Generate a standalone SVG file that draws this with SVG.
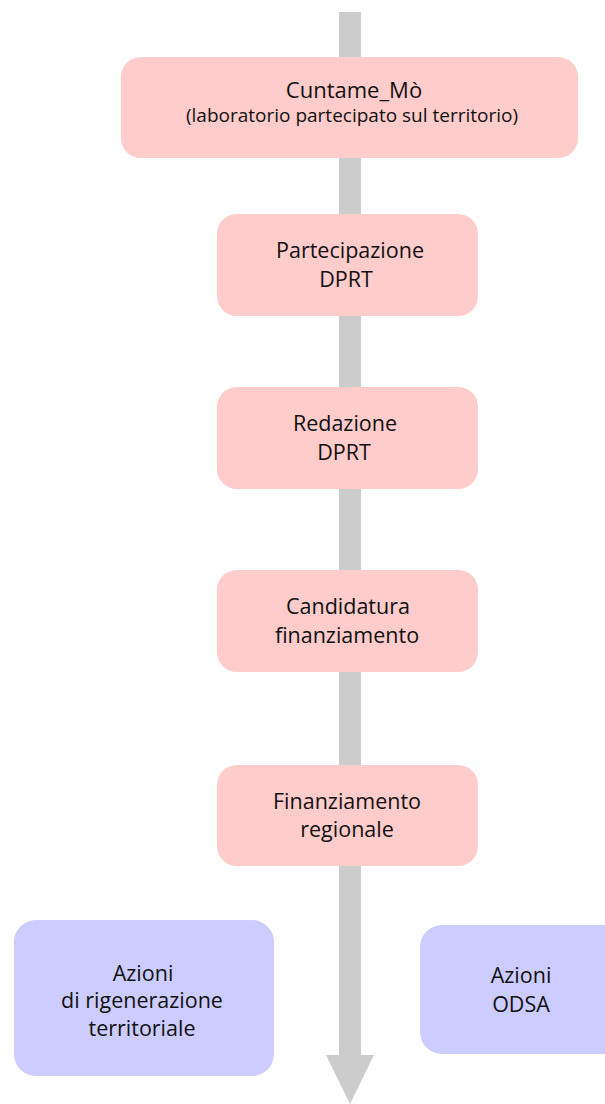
<svg xmlns="http://www.w3.org/2000/svg" width="605" height="1104" viewBox="0 0 605 1104">
  <defs>
    <style>
      .step { fill: #ffcccc; }
      .action { fill: #ccccff; }
      .flow { fill: #cccccc; }
      text { font-family: "Open Sans", "Liberation Sans", sans-serif; font-size: 21.5px; fill: #111111; text-anchor: middle; }
      .title { font-size: 22px; }
      .small { font-size: 19px; }
    </style>
  </defs>
  <rect width="605" height="1104" fill="#ffffff"/>

  <!-- main flow arrow running behind the steps -->
  <g id="connectors">
    <path class="flow" d="M339,12 H361 V1055 H374 L350,1104 L326,1055 H339 Z"/>
  </g>

  <g id="cuntame">
    <rect class="step" x="121" y="57" width="457" height="101" rx="20"/>
    <text class="title" x="354" y="98">Cuntame_Mò</text>
    <text class="small" x="352" y="122">(laboratorio partecipato sul territorio)</text>
  </g>

  <g id="partecipazione">
    <rect class="step" x="217" y="214" width="261" height="102" rx="20"/>
    <text x="350" y="258">Partecipazione</text>
    <text x="346" y="287">DPRT</text>
  </g>

  <g id="redazione">
    <rect class="step" x="217" y="387" width="261" height="102" rx="20"/>
    <text x="345" y="431">Redazione</text>
    <text x="344" y="460">DPRT</text>
  </g>

  <g id="candidatura">
    <rect class="step" x="217" y="570" width="261" height="102" rx="20"/>
    <text x="348" y="614">Candidatura</text>
    <text x="347" y="643">finanziamento</text>
  </g>

  <g id="finanziamento">
    <rect class="step" x="217" y="765" width="261" height="101" rx="20"/>
    <text x="347" y="809">Finanziamento</text>
    <text x="347" y="837">regionale</text>
  </g>

  <g id="azioni-rigenerazione">
    <rect class="action" x="14" y="920" width="260" height="156" rx="22"/>
    <text x="143" y="981">Azioni</text>
    <text x="142" y="1008">di rigenerazione</text>
    <text x="142" y="1036">territoriale</text>
  </g>

  <g id="azioni-odsa">
    <rect class="action" x="420" y="925" width="205" height="129" rx="22"/>
    <text x="521" y="983">Azioni</text>
    <text x="521" y="1012">ODSA</text>
  </g>
</svg>
